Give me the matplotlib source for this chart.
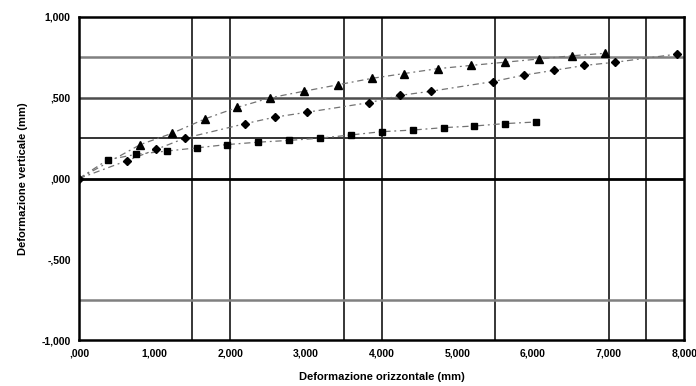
import matplotlib.pyplot as plt
from matplotlib.ticker import FuncFormatter

plt.rcParams['font.family'] = ['Liberation Sans', 'DejaVu Sans']
plt.rcParams['font.weight'] = 'bold'

# data (mm)
tri_x = [0.81, 1.23, 1.67, 2.09, 2.53, 2.97, 3.42, 3.87, 4.30, 4.74, 5.18, 5.63, 6.08, 6.52, 6.95]
tri_y = [0.21, 0.28, 0.37, 0.44, 0.50, 0.54, 0.58, 0.62, 0.65, 0.68, 0.70, 0.72, 0.74, 0.76, 0.775]

dia_x = [0.00, 0.63, 1.02, 1.40, 2.20, 2.59, 3.01, 3.84, 4.25, 4.65, 5.47, 5.88, 6.28, 6.68, 7.09, 7.90]
dia_y = [0.00, 0.11, 0.18, 0.25, 0.34, 0.38, 0.41, 0.47, 0.515, 0.54, 0.60, 0.64, 0.67, 0.70, 0.72, 0.77]

sq_x = [0.38, 0.76, 1.16, 1.56, 1.95, 2.37, 2.78, 3.19, 3.60, 4.00, 4.41, 4.82, 5.22, 5.63, 6.04]
sq_y = [0.116, 0.15, 0.17, 0.19, 0.21, 0.225, 0.236, 0.25, 0.27, 0.29, 0.30, 0.315, 0.325, 0.34, 0.35]

vlines = [1.5, 2.0, 3.5, 4.0, 5.5, 7.0, 7.5]
hlines = [(0.75, '0.5', 1.8), (0.5, '0.3', 1.8), (0.25, '0.2', 1.4), (0.0, 'black', 2.0), (-0.75, '0.5', 1.8)]


def it_fmt(v, pos):
    s = f"{v:.3f}".replace('.', ',')
    if s.startswith('0,'):
        s = s[1:]
    elif s.startswith('-0,'):
        s = '-' + s[2:]
    return s


fig = plt.figure(figsize=(6.96, 3.86), dpi=100)
ax = fig.add_axes([0.1135, 0.119, 0.8695, 0.837])

for x in vlines:
    ax.axvline(x, color='black', lw=1.1, zorder=1)
for y, c, w in hlines:
    ax.axhline(y, color=c, lw=w, zorder=1)

dash = (0, (5, 3, 1.5, 3))
ax.plot([0] + tri_x, [0] + tri_y, color='0.45', lw=0.9, ls=dash, zorder=2)
ax.plot(dia_x, dia_y, color='0.45', lw=0.9, ls=dash, zorder=2)
ax.plot([0] + sq_x, [0] + sq_y, color='0.45', lw=0.9, ls=dash, zorder=2)
ax.plot(tri_x, tri_y, ls='none', marker='^', ms=6, color='black', zorder=3)
ax.plot(dia_x, dia_y, ls='none', marker='D', ms=4.5, color='black', zorder=3)
ax.plot(sq_x, sq_y, ls='none', marker='s', ms=5, color='black', zorder=3)

ax.set_xlim(0, 8)
ax.set_ylim(-1, 1)
ax.set_xticks(range(0, 9))
ax.set_yticks([-1, -0.5, 0, 0.5, 1])
ax.xaxis.set_major_formatter(FuncFormatter(it_fmt))
ax.yaxis.set_major_formatter(FuncFormatter(it_fmt))
ax.tick_params(length=0, labelsize=7.5, pad=6)
for sp in ax.spines.values():
    sp.set_linewidth(1.8)

ax.set_xlabel("Deformazione orizzontale (mm)", fontsize=8, fontweight='bold', labelpad=10)
ax.set_ylabel("Deformazione verticale (mm)", fontsize=8, fontweight='bold', labelpad=10)

fig.savefig('out.png', dpi=100)
